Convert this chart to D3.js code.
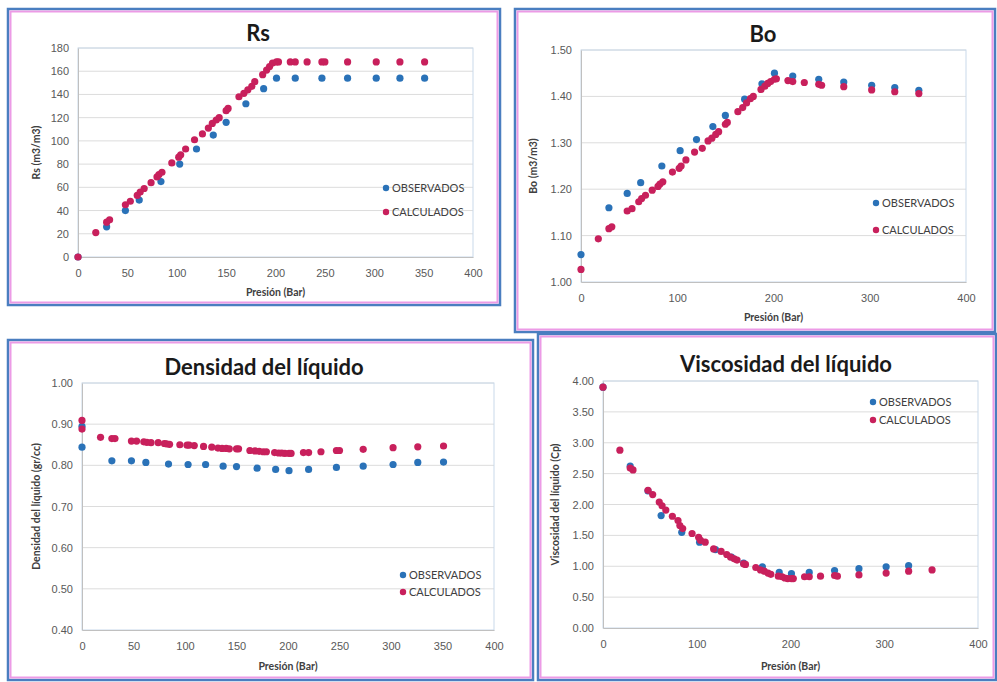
<!DOCTYPE html>
<html>
<head>
<meta charset="utf-8">
<script src="https://cdn.jsdelivr.net/npm/d3@7"></script>
<style>
  body { margin: 0; background: #fff; }
  svg { display: block; font-family: Lato, "Open Sans", sans-serif; }
</style>
</head>
<body>
<svg id="chart" width="997" height="682"></svg>
<script>
// presiones (bar)
const pObs = [0, 29, 48, 62, 84, 103, 120, 137, 150, 170, 188, 201, 220, 247, 273, 302, 326, 351];
const pCalc = [0, 18, 29, 32, 48, 53, 60, 63, 67, 74, 80, 82, 85, 95, 102, 104, 109, 118, 126, 132,
  136, 140, 143, 150, 152, 163, 168, 172, 176, 179, 187, 191, 194, 197, 201, 203, 215, 220, 232, 247,
  250, 273, 302, 326, 351];

const rsObs = [0, 26, 40, 49, 65, 80, 93, 105, 116, 132, 145, 154, 154, 154, 154, 154, 154, 154];
const rsCalc = [0, 21, 30, 32, 45, 48, 53, 56, 59, 64, 69, 71, 73, 81, 86, 88, 93, 101, 106, 111,
  115, 118, 120, 126, 128, 138, 141, 144, 147, 151, 157, 161, 164, 167, 168, 168, 168, 168, 168, 168,
  168, 168, 168, 168, 168];

const boObs = [1.059, 1.160, 1.191, 1.214, 1.250, 1.283, 1.307, 1.335, 1.359, 1.394, 1.427, 1.450,
  1.444, 1.437, 1.431, 1.424, 1.419, 1.413];
const boCalc = [1.027, 1.093, 1.115, 1.119, 1.153, 1.158, 1.173, 1.180, 1.187, 1.198, 1.206, 1.211,
  1.216, 1.237, 1.245, 1.250, 1.263, 1.280, 1.288, 1.304, 1.310, 1.318, 1.324, 1.340, 1.344, 1.367,
  1.376, 1.386, 1.395, 1.400, 1.415, 1.422, 1.428, 1.432, 1.437, 1.438, 1.434, 1.432, 1.430, 1.426,
  1.424, 1.421, 1.414, 1.410, 1.406];

const densObs = [0.844, 0.811, 0.811, 0.807, 0.803, 0.802, 0.802, 0.798, 0.797, 0.793, 0.790, 0.787,
  0.790, 0.795, 0.798, 0.802, 0.807, 0.808];
const densCalc = [0.909, 0.868, 0.865, 0.865, 0.859, 0.859, 0.857, 0.856, 0.855, 0.855, 0.853, 0.852,
  0.851, 0.850, 0.849, 0.849, 0.848, 0.846, 0.844, 0.842, 0.841, 0.841, 0.840, 0.840, 0.840, 0.836,
  0.835, 0.834, 0.833, 0.833, 0.831, 0.830, 0.830, 0.829, 0.829, 0.829, 0.831, 0.831, 0.833, 0.836,
  0.836, 0.839, 0.843, 0.845, 0.847];
// segundo punto medido a 0 bar
const densExtraP = [0];
const densExtraObs = [0.895];
const densExtraCalc = [0.888];

const viscObs = [3.90, 2.62, 2.22, 1.82, 1.55, 1.39, 1.27, 1.15, 1.05, 0.99, 0.90, 0.88, 0.90, 0.93,
  0.96, 0.99, 1.01, null];
const viscCalc = [3.90, 2.88, 2.59, 2.56, 2.23, 2.16, 2.04, 1.98, 1.91, 1.81, 1.74, 1.66, 1.61, 1.53,
  1.47, 1.42, 1.39, 1.28, 1.24, 1.19, 1.15, 1.12, 1.10, 1.04, 1.03, 0.98, 0.94, 0.92, 0.89, 0.87,
  0.84, 0.83, 0.81, 0.80, 0.80, 0.80, 0.83, 0.83, 0.84, 0.85, 0.84, 0.86, 0.89, 0.92, 0.94];

const seriesNames = ["OBSERVADOS", "CALCULADOS"];
const colObs = "#2a72b8";
const colCalc = "#c8205c";

const svg = d3.select("#chart");

function zip(xs, ys) {
  return xs.map((x, i) => ({ x: x, y: ys[i] })).filter(d => d.y != null);
}

function drawPanel(c) {
  const g = svg.append("g");

  // marco azul + rosa
  g.append("rect").attr("x", c.frame[0]).attr("y", c.frame[1])
    .attr("width", c.frame[2]).attr("height", c.frame[3])
    .attr("fill", "#fff").attr("stroke", "#4a7ec0").attr("stroke-width", 2.5);
  g.append("rect").attr("x", c.frame[0] + 2.5).attr("y", c.frame[1] + 2.5)
    .attr("width", c.frame[2] - 5).attr("height", c.frame[3] - 5)
    .attr("fill", "none").attr("stroke", "#ec9be6").attr("stroke-width", 2);

  const x = d3.scaleLinear().domain([0, 400]).range([c.plot.l, c.plot.r]);
  const y = d3.scaleLinear().domain(c.yDomain).range([c.plot.b, c.plot.t]);
  const yTicks = d3.range(c.yDomain[0], c.yDomain[1] + c.yStep / 2, c.yStep);
  const xTicks = d3.range(0, 400 + c.xStep / 2, c.xStep);

  // rejilla
  g.append("g").selectAll("line").data(yTicks.slice(1)).enter().append("line")
    .attr("x1", c.plot.l).attr("x2", c.plot.r)
    .attr("y1", d => y(d)).attr("y2", d => y(d))
    .attr("stroke", "#dcdcdc").attr("stroke-width", 1);

  g.append("rect").attr("x", c.plot.l).attr("y", c.plot.t)
    .attr("width", c.plot.r - c.plot.l).attr("height", c.plot.b - c.plot.t)
    .attr("fill", "none").attr("stroke", "#c9d9ea").attr("stroke-width", 1);

  const yAxis = g.append("g").attr("transform", `translate(${c.plot.l},0)`)
    .call(d3.axisLeft(y).tickValues(yTicks).tickFormat(d3.format(c.yFmt)).tickSize(0).tickPadding(9));
  const xAxis = g.append("g").attr("transform", `translate(0,${c.plot.b})`)
    .call(d3.axisBottom(x).tickValues(xTicks).tickFormat(d3.format("d")).tickSize(0).tickPadding(12));
  [yAxis, xAxis].forEach(a => {
    a.select(".domain").attr("stroke", "#c0c0c0");
    a.selectAll("text").attr("fill", "#595959").style("font-size", "11px");
  });

  // puntos
  const pts = [
    { data: zip(pObs, c.obs).concat(c.obsExtra || []), color: colObs },
    { data: zip(pCalc, c.calc).concat(c.calcExtra || []), color: colCalc }
  ];
  pts.forEach(s => {
    g.append("g").selectAll("circle").data(s.data).enter().append("circle")
      .attr("cx", d => x(d.x)).attr("cy", d => y(d.y)).attr("r", 3.6)
      .attr("fill", s.color);
  });

  // títulos
  g.append("text").attr("x", c.title[0]).attr("y", c.title[1])
    .attr("text-anchor", "middle").attr("font-weight", "bold")
    .style("font-size", c.titleSize + "px").attr("fill", "#1a1a1a").text(c.titleText);
  g.append("text").attr("x", (c.plot.l + c.plot.r) / 2).attr("y", c.xLabelY)
    .attr("text-anchor", "middle").attr("font-weight", "bold")
    .style("font-size", "10.5px").attr("fill", "#404040").text("Presión (Bar)");
  g.append("text")
    .attr("transform", `translate(${c.yLabelX},${(c.plot.t + c.plot.b) / 2}) rotate(-90)`)
    .attr("text-anchor", "middle").attr("font-weight", "bold")
    .style("font-size", "10.5px").attr("fill", "#404040").text(c.yLabel);

  // leyenda
  const lg = g.append("g").selectAll("g").data(seriesNames).enter().append("g")
    .attr("transform", (d, i) => `translate(${c.legend[0]},${c.legend[1] + i * c.legend[2]})`);
  lg.append("circle").attr("r", 3.2).attr("fill", (d, i) => i ? colCalc : colObs);
  lg.append("text").attr("x", 6).attr("dy", "0.35em")
    .style("font-size", "11px").attr("fill", "#404040").text(d => d);
}

drawPanel({
  frame: [8, 9, 492, 296], plot: { l: 78, r: 473, t: 48, b: 257 },
  yDomain: [0, 180], yStep: 20, yFmt: "d", xStep: 50,
  obs: rsObs, calc: rsCalc,
  titleText: "Rs", title: [258, 41], titleSize: 22,
  xLabelY: 296, yLabel: "Rs (m3/m3)", yLabelX: 40,
  legend: [386, 188, 24]
});

drawPanel({
  frame: [515, 9, 480, 323], plot: { l: 581, r: 966, t: 50, b: 282 },
  yDomain: [1.0, 1.5], yStep: 0.1, yFmt: ".2f", xStep: 100,
  obs: boObs, calc: boCalc,
  titleText: "Bo", title: [763, 42], titleSize: 22,
  xLabelY: 321, yLabel: "Bo (m3/m3)", yLabelX: 537,
  legend: [876, 203, 27]
});

drawPanel({
  frame: [8, 340, 525, 340], plot: { l: 82, r: 494, t: 383, b: 630 },
  yDomain: [0.4, 1.0], yStep: 0.1, yFmt: ".2f", xStep: 50,
  obs: densObs, calc: densCalc,
  obsExtra: zip(densExtraP, densExtraObs), calcExtra: zip(densExtraP, densExtraCalc),
  titleText: "Densidad del líquido", title: [264, 375], titleSize: 22,
  xLabelY: 670, yLabel: "Densidad del líquido (gr/cc)", yLabelX: 40,
  legend: [403, 575, 17]
});

drawPanel({
  frame: [538, 334, 458, 346], plot: { l: 603, r: 978, t: 381, b: 628 },
  yDomain: [0, 4], yStep: 0.5, yFmt: ".2f", xStep: 100,
  obs: viscObs, calc: viscCalc,
  titleText: "Viscosidad del líquido", title: [786, 372], titleSize: 22,
  xLabelY: 670, yLabel: "Viscosidad del líquido (Cp)", yLabelX: 559,
  legend: [873, 402, 18]
});
</script>
</body>
</html>
